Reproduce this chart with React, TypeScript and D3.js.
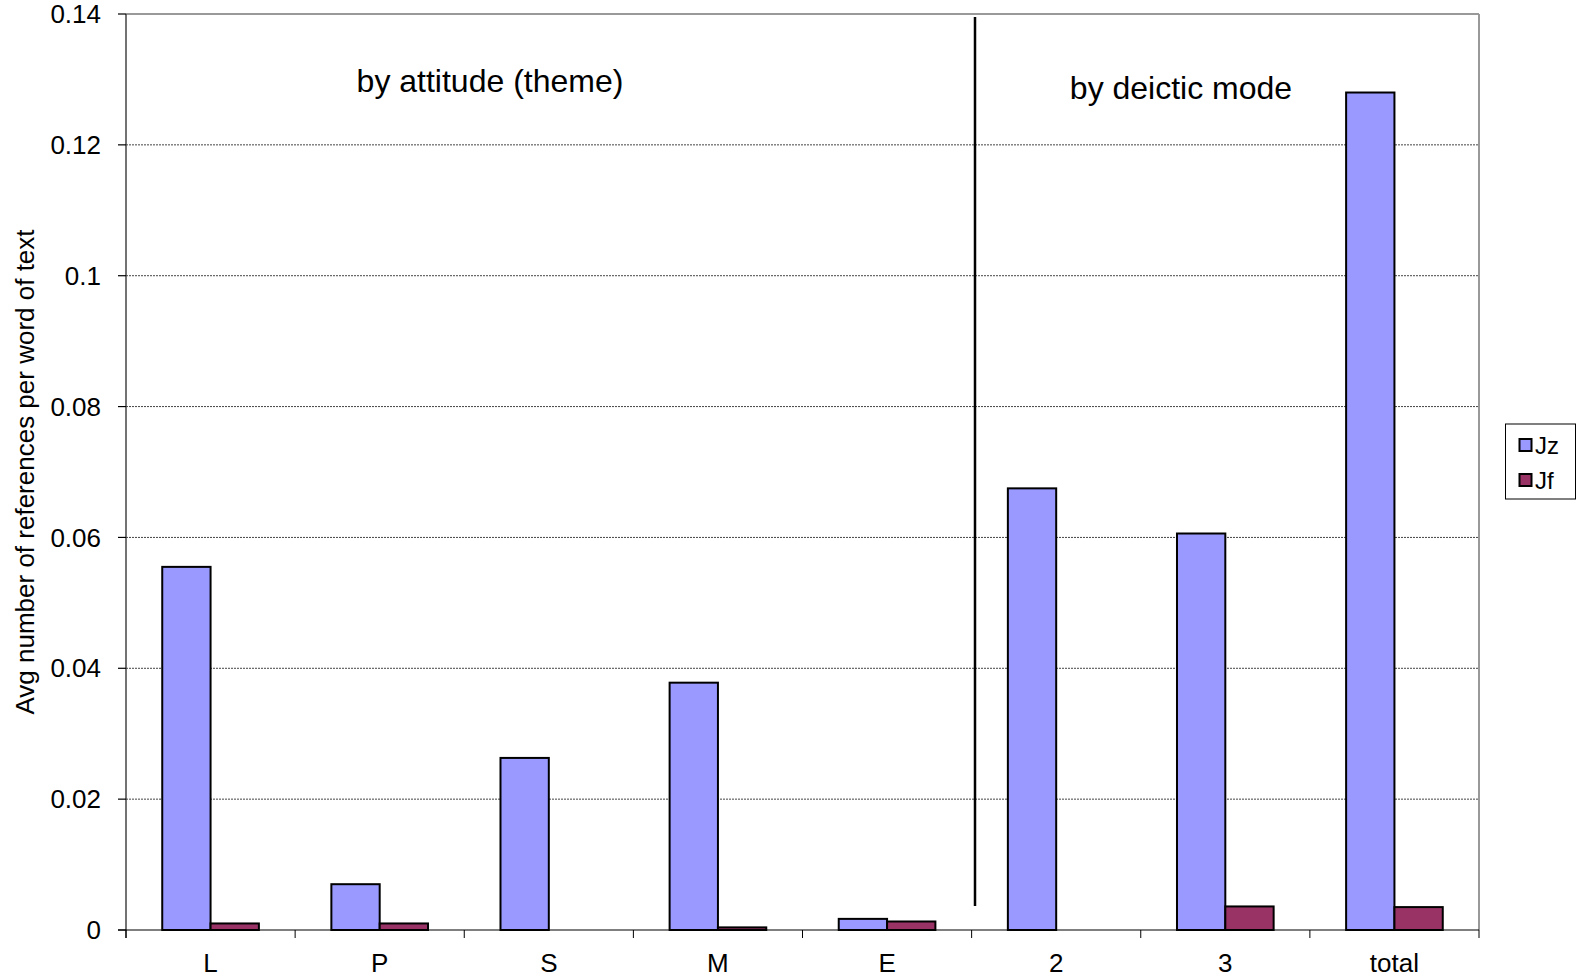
import React from "react";
import * as d3 from "d3";

const categories = ["L", "P", "S", "M", "E", "2", "3", "total"];
const seriesNames = ["Jz", "Jf"];
const jzValues = [0.0555, 0.007, 0.0263, 0.0378, 0.0017, 0.0675, 0.0606, 0.128];
const jfValues = [0.001, 0.001, 0, 0.0004, 0.0013, 0, 0.0036, 0.0035];
const yTicks = [0, 0.02, 0.04, 0.06, 0.08, 0.1, 0.12, 0.14];
const colors = ["#9999FF", "#993366"];

const W = 1576;
const H = 980;
const left = 126;
const right = 1479;
const top = 14;
const bottom = 930;

export default function App() {
  const x = d3.scaleBand<string>().domain(categories).range([left, right]).paddingInner(0).paddingOuter(0);
  const y = d3.scaleLinear().domain([0, 0.14]).range([bottom, top]);
  const bw = x.bandwidth() / 3.5;
  const series = [jzValues, jfValues];
  const font = "'Liberation Sans', Arial, sans-serif";
  return (
    <div style={{ position: "absolute", left: 0, top: 0 }}>
      <svg width={W} height={H} style={{ display: "block", fontFamily: font }}>
        <rect x={0} y={0} width={W} height={H} fill="#fff" />
        {yTicks.filter((t) => t > 0 && t < 0.14).map((t) => (
          <line key={t} x1={left} x2={right} y1={y(t)} y2={y(t)} stroke="#444" strokeWidth={1} strokeDasharray="2,1" />
        ))}
        <line x1={left} x2={right} y1={top} y2={top} stroke="#999" strokeWidth={2} />
        <line x1={right} x2={right} y1={top} y2={bottom} stroke="#999" strokeWidth={2} />
        {series.map((vals, si) =>
          vals.map((v, i) => {
            const cx = x(categories[i])! + x.bandwidth() / 2;
            const bx = cx - bw + si * bw;
            if (v <= 0) return null;
            return (
              <rect key={si + "-" + i} x={bx} y={y(v)} width={bw} height={bottom - y(v)} fill={colors[si]} stroke="#000" strokeWidth={2} />
            );
          })
        )}
        <line x1={left} x2={left} y1={top} y2={bottom + 8} stroke="#444" strokeWidth={1.5} />
        {yTicks.map((t) => (
          <g key={t}>
            <line x1={left - 8} x2={left} y1={y(t)} y2={y(t)} stroke="#000" strokeWidth={1.2} />
            <text x={101} y={y(t)} dy="0.35em" textAnchor="end" fontSize={26} fill="#000">
              {String(+t.toFixed(2))}
            </text>
          </g>
        ))}
        <line x1={left - 8} x2={right} y1={bottom} y2={bottom} stroke="#000" strokeWidth={1.2} />
        {categories.map((c, i) => (
          <line key={"t" + i} x1={x(c)!} x2={x(c)!} y1={bottom} y2={bottom + 8} stroke="#000" strokeWidth={1} />
        ))}
        <line x1={right} x2={right} y1={bottom} y2={bottom + 8} stroke="#000" strokeWidth={1} />
        {categories.map((c) => (
          <text key={"l" + c} x={x(c)! + x.bandwidth() / 2} y={963} dy="0.35em" textAnchor="middle" fontSize={26} fill="#000">
            {c}
          </text>
        ))}
        <text transform={`translate(25,${472}) rotate(-90)`} textAnchor="middle" dy="0.35em" fontSize={26} fill="#000">
          Avg number of references per word of text
        </text>
        <line x1={975} x2={975} y1={17} y2={906} stroke="#000" strokeWidth={2.5} />
        <text x={490} y={81} dy="0.35em" textAnchor="middle" fontSize={32} fill="#000">by attitude (theme)</text>
        <text x={1181} y={88} dy="0.35em" textAnchor="middle" fontSize={32} fill="#000">by deictic mode</text>
        <rect x={1505.5} y={424} width={70} height={75} fill="#fff" stroke="#000" strokeWidth={1} />
        {seriesNames.map((s, i) => (
          <g key={s}>
            <rect x={1519.5} y={439 + i * 35} width={12} height={12} fill={colors[i]} stroke="#000" strokeWidth={2} />
            <text x={1535} y={446 + i * 35} dy="0.35em" fontSize={24} fill="#000">{s}</text>
          </g>
        ))}
      </svg>
    </div>
  );
}
